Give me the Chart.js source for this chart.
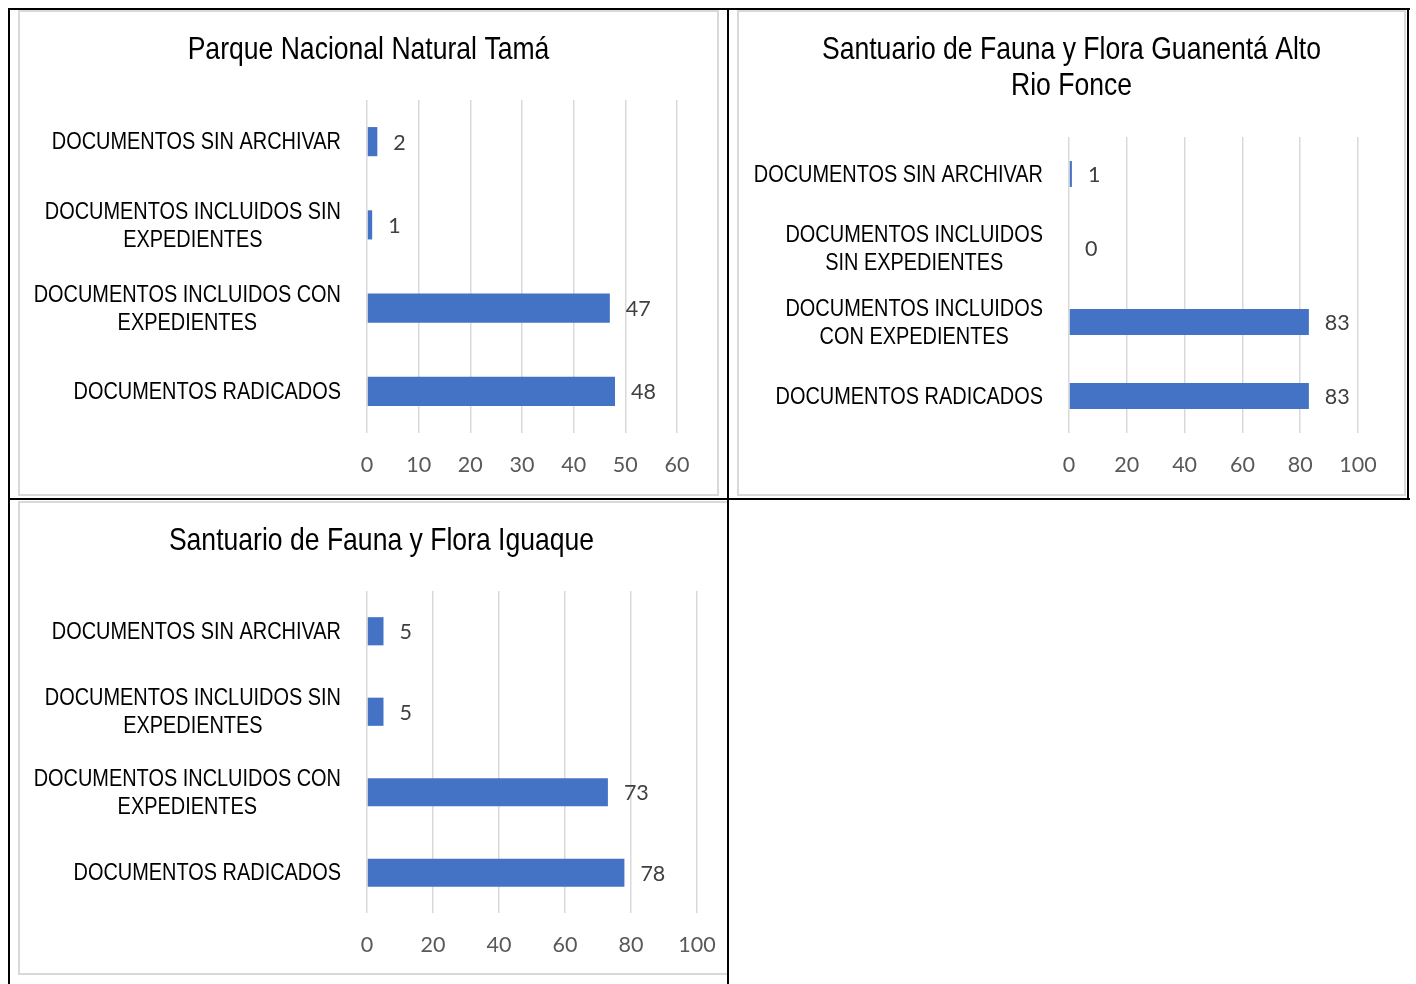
<!DOCTYPE html>
<html><head><meta charset="utf-8">
<script src="https://cdn.jsdelivr.net/npm/chart.js@4.4.1/dist/chart.umd.min.js"></script>
<style>
html,body{margin:0;padding:0;background:#fff}
body{width:1416px;height:984px;position:relative;overflow:hidden}
.ln{position:absolute;background:#000;z-index:5}
.clip{position:absolute;overflow:hidden}
.box{position:absolute;border:2px solid #d9d9d9;box-sizing:border-box;background:#fff}
canvas{display:block}
</style></head><body>

<div class="box" style="left:18px;top:10px;width:701px;height:486px"><canvas id="c1" width="697" height="482"></canvas></div>
<div class="box" style="left:737px;top:10px;width:669px;height:486px"><canvas id="c2" width="665" height="482"></canvas></div>
<div class="clip" style="left:10px;top:500px;width:717px;height:484px">
  <div class="box" style="left:8px;top:1px;width:727px;height:474px"><canvas id="c3" width="723" height="470"></canvas></div>
</div>

<div class="ln" style="left:8px;top:8px;width:1402px;height:2px"></div>
<div class="ln" style="left:8px;top:8px;width:2px;height:976px"></div>
<div class="ln" style="left:727px;top:8px;width:2px;height:976px"></div>
<div class="ln" style="left:8px;top:498px;width:1402px;height:2px"></div>
<div class="ln" style="left:1407px;top:8px;width:2px;height:492px"></div>

<script>
// ---- data ----
const categoriesA = [["DOCUMENTOS SIN ARCHIVAR"], ["DOCUMENTOS INCLUIDOS SIN", "EXPEDIENTES"], ["DOCUMENTOS INCLUIDOS CON", "EXPEDIENTES"], ["DOCUMENTOS RADICADOS"]];
const categoriesB = [["DOCUMENTOS SIN ARCHIVAR"], ["DOCUMENTOS INCLUIDOS", "SIN EXPEDIENTES"], ["DOCUMENTOS INCLUIDOS", "CON EXPEDIENTES"], ["DOCUMENTOS RADICADOS"]];
const titleTama = ["Parque Nacional Natural Tamá"];
const titleGuanenta = ["Santuario de Fauna y Flora Guanentá Alto", "Rio Fonce"];
const titleIguaque = ["Santuario de Fauna y Flora Iguaque"];
const valuesTama = [2, 1, 47, 48];
const valuesGuanenta = [1, 0, 83, 83];
const valuesIguaque = [5, 5, 73, 78];
const axisMaxTama = 60, axisStepTama = 10;
const axisMaxGuanenta = 100, axisStepGuanenta = 20;
const axisMaxIguaque = 100, axisStepIguaque = 20;

// ---- styles ----
const SANS = '"Liberation Sans", Arial, sans-serif';
const NARROW_X = 0.83; // horizontal squeeze to imitate a narrow face
const NUMF = 'Lato, "Open Sans", sans-serif';
const BAR = '#4472C4';

function narrowText(ctx, text, cx, cy) {
  ctx.save();
  ctx.translate(cx, cy);
  ctx.scale(NARROW_X, 1);
  ctx.fillText(text, 0, 0);
  ctx.restore();
}

const titleText = {
  id: 'titleText',
  afterDraw(chart, args, opts) {
    const ctx = chart.ctx;
    ctx.save();
    ctx.font = '32px ' + SANS;
    ctx.fillStyle = '#000';
    ctx.textAlign = 'center';
    ctx.textBaseline = 'middle';
    opts.lines.forEach((l, j) => narrowText(ctx, l, chart.width / 2, 38.5 + j * 36));
    ctx.restore();
  }
};

const catLabels = {
  id: 'catLabels',
  afterDraw(chart, args, opts) {
    const ctx = chart.ctx, ys = chart.scales.y, left = chart.chartArea.left;
    ctx.save();
    ctx.font = '24px ' + SANS;
    ctx.fillStyle = '#000';
    ctx.textAlign = 'center';
    ctx.textBaseline = 'middle';
    chart.data.labels.forEach((lab, i) => {
      const lines = Array.isArray(lab) ? lab : [lab];
      const w = Math.max(...lines.map(l => ctx.measureText(l).width)) * NARROW_X;
      const cx = left - opts.gap - w / 2;
      const y0 = ys.getPixelForValue(i) + 1 - (lines.length - 1) * 28 / 2;
      lines.forEach((l, j) => narrowText(ctx, l, cx, y0 + j * 28));
    });
    ctx.restore();
  }
};

const valueLabels = {
  id: 'valueLabels',
  afterDatasetsDraw(chart) {
    const ctx = chart.ctx;
    const meta = chart.getDatasetMeta(0);
    const data = chart.data.datasets[0].data;
    ctx.save();
    ctx.font = '21.5px ' + NUMF;
    ctx.fillStyle = '#404040';
    ctx.textAlign = 'left';
    ctx.textBaseline = 'middle';
    meta.data.forEach((bar, i) => ctx.fillText(String(data[i]), bar.x + 16, bar.y + 1));
    ctx.restore();
  }
};

function makeChart(id, title, labels, values, max, step, side, yWidth, xHeight, top) {
  return new Chart(document.getElementById(id), {
    type: 'bar',
    data: { labels: labels, datasets: [{ data: values, backgroundColor: BAR, borderWidth: 0, barPercentage: 0.35, categoryPercentage: 1 }] },
    options: {
      indexAxis: 'y', responsive: false, animation: false, devicePixelRatio: 1,
      layout: { padding: { left: side, right: side, top: top, bottom: 0 } },
      plugins: {
        legend: { display: false }, tooltip: { enabled: false }, title: { display: false },
        titleText: { lines: title },
        catLabels: { gap: 26 }
      },
      scales: {
        x: {
          min: 0, max: max,
          ticks: { stepSize: step, color: '#595959', font: { family: NUMF, size: 21.5, lineHeight: 1.2 }, padding: 19 },
          grid: { color: '#d9d9d9', lineWidth: 1.5, drawTicks: false },
          border: { display: false },
          afterFit(s) { s.height = xHeight; }
        },
        y: {
          ticks: { display: false },
          grid: { display: false },
          border: { display: false },
          afterFit(s) { s.width = yWidth; }
        }
      }
    },
    plugins: [titleText, catLabels, valueLabels]
  });
}

makeChart('c1', titleTama, categoriesA, valuesTama, axisMaxTama, axisStepTama, 40, 307, 61, 88);
makeChart('c2', titleGuanenta, categoriesB, valuesGuanenta, axisMaxGuanenta, axisStepGuanenta, 46, 284, 61, 125);
makeChart('c3', titleIguaque, categoriesA, valuesIguaque, axisMaxIguaque, axisStepIguaque, 46, 301, 60, 88);
</script>
</body></html>
